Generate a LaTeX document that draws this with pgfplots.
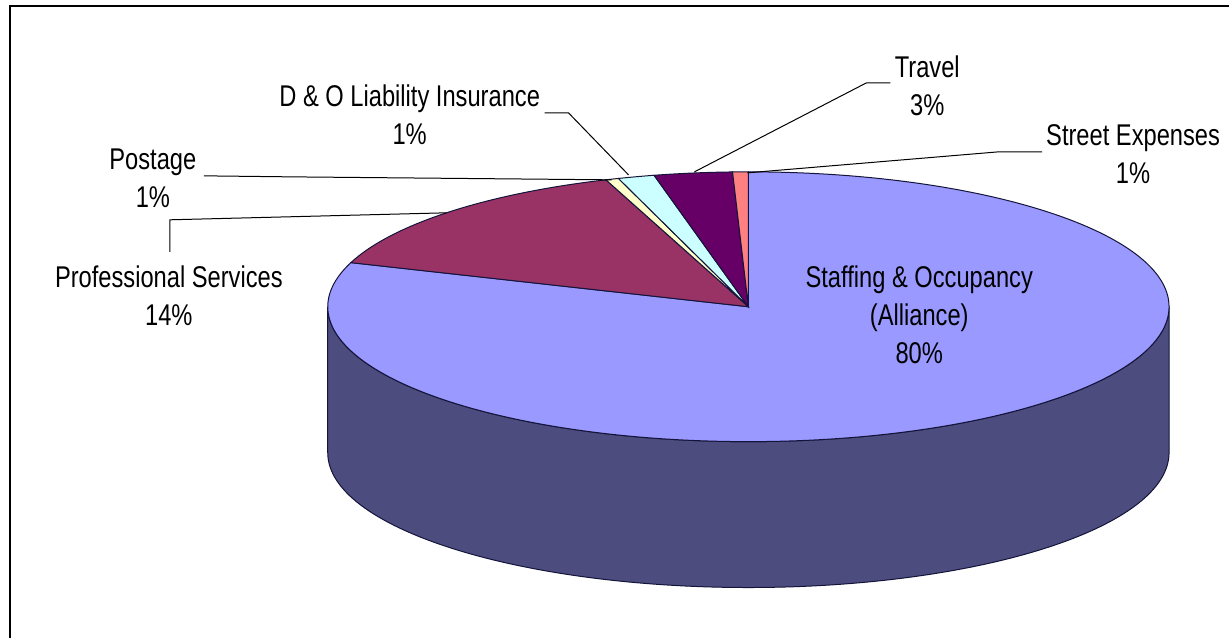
\documentclass[border=0pt]{standalone}
\usepackage{pgfplots}
\pgfplotsset{compat=1.18}
\usepackage{pgfplotstable}
\usepackage{fontspec}
\setmainfont{Liberation Sans}[FakeStretch=0.79]

\definecolor{cStaff}{HTML}{9999FF}
\definecolor{cProf}{HTML}{993366}
\definecolor{cPost}{HTML}{FFFFCC}
\definecolor{cDO}{HTML}{CCFFFF}
\definecolor{cTrav}{HTML}{660066}
\definecolor{cStreet}{HTML}{FF8080}
\definecolor{cSide}{HTML}{4C4C7E}
\definecolor{cEdge}{HTML}{14143A}

% share of each slice, in per cent, in the order drawn clockwise from 12 o'clock
\pgfplotstableread{
name value color
Staffing 80.3 cStaff
Professional 14.2 cProf
Postage 0.5 cPost
DO 1.4 cDO
Travel 3.0 cTrav
Street 0.6 cStreet
}\piedata

\begin{document}
\begin{tikzpicture}
\begin{axis}[x=0.5pt,y=0.5pt,xmin=0,xmax=1230,ymin=0,ymax=639,
  hide axis,scale only axis,clip=false]
\fill[white] (axis cs:0,0) rectangle (axis cs:1230,639);
% side wall (front half)
\fill[cSide,draw=cEdge,line width=0.5pt] (axis cs:328,332)
  arc[start angle=180,end angle=360,x radius=210.5pt,y radius=67.5pt]
  -- ++(0,-73pt)
  arc[start angle=360,end angle=180,x radius=210.5pt,y radius=67.5pt] -- cycle;
% slices on top
\pgfmathsetmacro{\cur}{90}
\pgfplotsforeachungrouped \i in {0,...,5}{%
  \pgfplotstablegetelem{\i}{value}\of\piedata \let\val\pgfplotsretval
  \pgfplotstablegetelem{\i}{color}\of\piedata \let\col\pgfplotsretval
  \pgfmathsetmacro{\nxt}{\cur-3.6*\val}%
  \edef\temp{\noexpand\fill[\col,draw=cEdge,line width=0.5pt] (axis cs:749,332) -- ++(\cur:210.5pt and 67.5pt)
    arc[start angle=\cur,end angle=\nxt,x radius=210.5pt,y radius=67.5pt] -- cycle;}%
  \temp
  \global\let\cur\nxt
}
% leader lines
\draw[black,line width=0.5pt] (axis cs:545,526) -- (axis cs:569,526) -- (axis cs:629,464);
\draw[black,line width=0.5pt] (axis cs:204,463) -- (axis cs:290,462) -- (axis cs:612,459);
\draw[black,line width=0.5pt] (axis cs:170,387) -- (axis cs:170,419) -- (axis cs:447,426);
\draw[black,line width=0.5pt] (axis cs:891,556) -- (axis cs:867,556) -- (axis cs:695,467);
\draw[black,line width=0.5pt] (axis cs:1043,487) -- (axis cs:999,487) -- (axis cs:748,466);
% labels
\tikzset{lab/.style={align=center,inner sep=0pt,text=black,font=\fontsize{15pt}{19pt}\selectfont}}
\node[lab] at (axis cs:410,524) {D \& O Liability Insurance\\1\%};
\node[lab] at (axis cs:153,461) {Postage\\1\%};
\node[lab] at (axis cs:169,343) {Professional Services\\14\%};
\node[lab] at (axis cs:928,553) {Travel\\3\%};
\node[lab] at (axis cs:1134,485) {Street Expenses\\1\%};
\node[lab] at (axis cs:920,324) {Staffing \& Occupancy\\(Alliance)\\80\%};
% frame
\draw[black,line width=1pt] (axis cs:10,0) -- (axis cs:10,632.5) -- (axis cs:1230,632.5);
\end{axis}
\end{tikzpicture}
\end{document}
